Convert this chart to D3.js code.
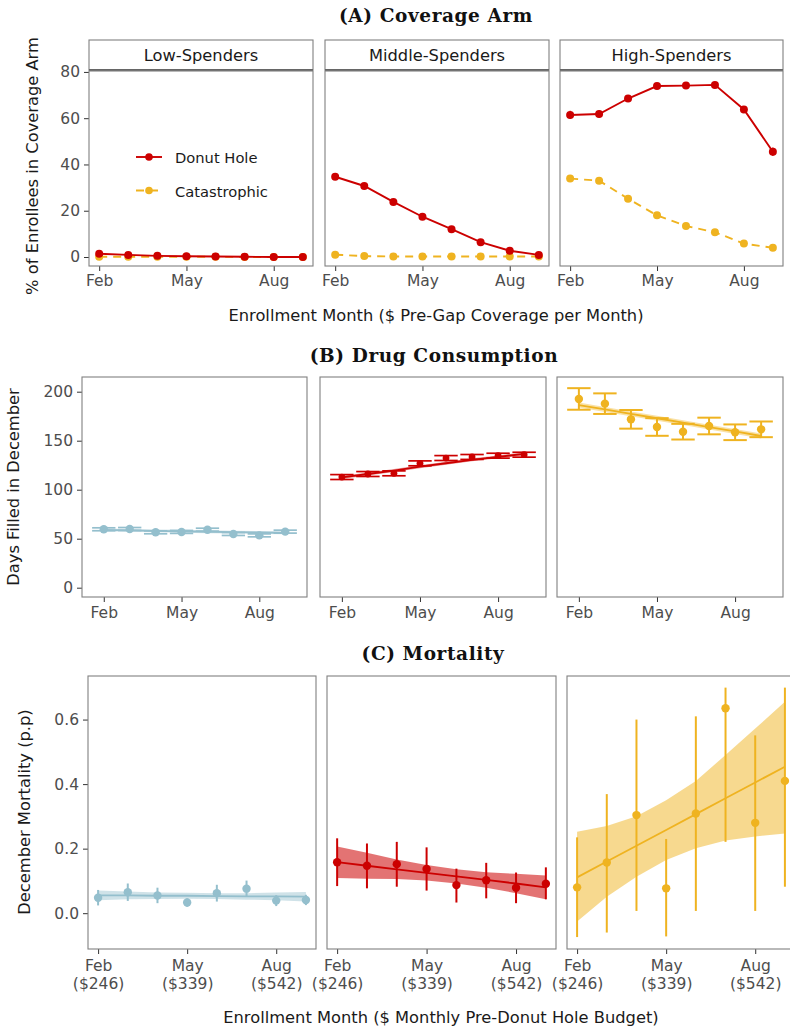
<!DOCTYPE html>
<html>
<head>
<meta charset="utf-8">
<script src="https://d3js.org/d3.v7.min.js"></script>
<style>
  body { margin: 0; background: #fff; }
  text { font-family: "DejaVu Sans", sans-serif; }
</style>
</head>
<body>
<div id="chart"></div>
<script>
// months on the x axis (Feb = 2 ... Sep = 9)
const months = [2, 3, 4, 5, 6, 7, 8, 9];
const tickMonths = [2, 5, 8];
const tickNames = ["Feb", "May", "Aug"];
const budgets = ["($246)", "($339)", "($542)"];
const groups = ["Low-Spenders", "Middle-Spenders", "High-Spenders"];

// (A) coverage arm, % of enrollees
const donutLow = [1.4, 0.9, 0.5, 0.3, 0.2, 0.1, 0.0, 0.0];
const catLow = [0.1, 0.1, 0.1, 0.1, 0.1, 0.0, 0.0, 0.0];
const donutMid = [34.7, 30.7, 23.8, 17.4, 12.0, 6.4, 2.7, 0.9];
const catMid = [1.0, 0.4, 0.2, 0.2, 0.2, 0.2, 0.2, 0.2];
const donutHigh = [61.4, 61.8, 68.5, 73.9, 74.1, 74.4, 63.8, 45.5];
const donutHighSE = [1.8, 1.6, 1.4, 1.2, 1.2, 1.2, 1.5, 1.8];
const catHigh = [33.9, 33.0, 25.2, 18.0, 13.4, 10.7, 5.8, 4.0];

// (B) days filled in December
const daysLow = [59.6, 59.9, 56.5, 56.9, 59.2, 54.8, 53.4, 57.2];
const daysLowSE = [1.5, 1.5, 1.5, 1.5, 1.5, 1.5, 1.5, 1.5];
const daysLowFit = [58.9, 58.5, 58.0, 57.5, 57.1, 56.7, 56.3, 56.0];
const daysMid = [112.9, 116.0, 116.7, 126.9, 132.3, 133.4, 134.7, 135.7];
const daysMidSE = [2.5, 2.5, 2.5, 2.5, 2.5, 2.5, 2.5, 2.5];
const daysMidFit = [112.5, 116.0, 119.5, 123.5, 127.0, 130.5, 133.5, 136.5];
const daysHigh = [192.6, 187.8, 171.8, 164.0, 159.2, 165.0, 158.6, 161.6];
const daysHighSE = [11.0, 10.5, 9.5, 9.0, 8.0, 8.5, 8.0, 8.0];
const daysHighFit = [186.4, 181.9, 177.4, 172.9, 168.4, 163.9, 159.4, 154.8];

// (C) December mortality (p.p)
const mortLow = [0.048, 0.065, 0.055, 0.033, 0.062, 0.076, 0.039, 0.041];
const mortLowLo = [0.024, 0.038, 0.031, 0.020, 0.036, 0.051, 0.022, 0.025];
const mortLowHi = [0.072, 0.092, 0.079, 0.046, 0.088, 0.101, 0.056, 0.057];
const mortLowFit = [0.055, 0.055, 0.054, 0.054, 0.053, 0.052, 0.052, 0.051];
const mortLowBandLo = [0.040, 0.043, 0.044, 0.045, 0.044, 0.042, 0.040, 0.036];
const mortLowBandHi = [0.070, 0.067, 0.064, 0.063, 0.062, 0.062, 0.064, 0.066];

const mortMid = [0.158, 0.147, 0.152, 0.137, 0.087, 0.102, 0.079, 0.091];
const mortMidLo = [0.084, 0.077, 0.082, 0.070, 0.033, 0.046, 0.031, 0.043];
const mortMidHi = [0.232, 0.216, 0.221, 0.204, 0.138, 0.156, 0.126, 0.142];
const mortMidFit = [0.158, 0.147, 0.136, 0.125, 0.114, 0.103, 0.092, 0.080];
const mortMidBandLo = [0.109, 0.107, 0.106, 0.101, 0.092, 0.079, 0.062, 0.043];
const mortMidBandHi = [0.207, 0.187, 0.166, 0.149, 0.136, 0.127, 0.122, 0.117];

const mortHigh = [0.080, 0.157, 0.304, 0.077, 0.309, 0.635, 0.280, 0.410];
const mortHighLo = [-0.074, -0.060, 0.007, -0.072, 0.007, 0.221, 0.007, 0.082];
const mortHighHi = [0.235, 0.369, 0.600, 0.230, 0.610, 0.699, 0.551, 0.699];
const mortHighFit = [0.111, 0.160, 0.209, 0.258, 0.307, 0.356, 0.405, 0.454];
const mortHighBandLo = [-0.026, 0.051, 0.113, 0.165, 0.201, 0.225, 0.238, 0.247];
const mortHighBandHi = [0.252, 0.270, 0.300, 0.350, 0.410, 0.490, 0.572, 0.655];

const RED = "#cc0000", GOLD = "#efb320", BLUE = "#94bfcd";
const TICK = "#4d4d4d", BORDER = "#808080";

const svg = d3.select("#chart").append("svg")
    .attr("width", 790).attr("height", 1030);

function title(txt, x, y) {
    svg.append("text").attr("x", x).attr("y", y)
        .attr("text-anchor", "middle")
        .style("font-family", "'DejaVu Serif', serif")
        .style("font-weight", "bold").style("font-size", "18.5px")
        .style("letter-spacing", "0.6px")
        .attr("fill", "#111").text(txt);
}

function axisTitle(txt, x, y, rotate) {
    const t = svg.append("text").attr("text-anchor", "middle")
        .style("font-size", "16.3px").attr("fill", "#1a1a1a").text(txt);
    if (rotate) t.attr("transform", `translate(${x},${y}) rotate(-90)`);
    else t.attr("x", x).attr("y", y);
}

// one facet panel; returns group + scales
function panel(x0, x1, y0, y1, xDom, yDom, yTicks, yFmt, twoLine, pad) {
    const g = svg.append("g").attr("transform", `translate(${x0},${y0})`);
    const w = x1 - x0, h = y1 - y0;
    const x = d3.scaleLinear().domain(xDom).range([0, w]);
    const y = d3.scaleLinear().domain(yDom).range([h, 0]);

    const xa = g.append("g").attr("transform", `translate(0,${h})`)
        .call(d3.axisBottom(x).tickValues(tickMonths)
            .tickFormat((d, i) => tickNames[i]).tickSize(5).tickPadding(pad));
    xa.select(".domain").remove();
    xa.selectAll("line").attr("stroke", "#333");
    xa.selectAll("text").attr("fill", TICK).style("font-size", "15.5px")
        .style("font-family", "'DejaVu Sans', sans-serif");
    if (twoLine) {
        xa.selectAll("text").each(function(d, i) {
            const t = d3.select(this);
            t.text(null);
            t.append("tspan").attr("x", 0).attr("dy", "0.71em").text(tickNames[i]);
            t.append("tspan").attr("x", 0).attr("dy", "1.15em").text(budgets[i]);
        }).attr("dy", null);
    }
    if (yTicks) {
        const ya = g.append("g")
            .call(d3.axisLeft(y).tickValues(yTicks).tickFormat(yFmt).tickSize(5).tickPadding(4));
        ya.select(".domain").remove();
        ya.selectAll("line").attr("stroke", "#333");
        ya.selectAll("text").attr("fill", TICK).style("font-size", "15.5px")
            .style("font-family", "'DejaVu Sans', sans-serif");
    }
    const plot = g.append("g");
    g.append("rect").attr("width", w).attr("height", h)
        .attr("fill", "none").attr("stroke", BORDER).attr("stroke-width", 1.1);
    return { g: plot, x, y, w, h };
}

function drawLine(p, vals, color, dash, width) {
    p.g.append("path").datum(vals)
        .attr("d", d3.line().x((d, i) => p.x(months[i])).y(d => p.y(d)))
        .attr("fill", "none").attr("stroke", color)
        .attr("stroke-width", width || 1.9)
        .attr("stroke-dasharray", dash || null);
}

function drawPoints(p, vals, color, r) {
    p.g.selectAll(null).data(vals).enter().append("circle")
        .attr("cx", (d, i) => p.x(months[i])).attr("cy", d => p.y(d))
        .attr("r", r).attr("fill", color);
}

function drawBand(p, lo, hi, color, op) {
    p.g.append("path").datum(months)
        .attr("d", d3.area().x(d => p.x(d))
            .y0((d, i) => p.y(lo[i])).y1((d, i) => p.y(hi[i])))
        .attr("fill", color).attr("opacity", op);
}

function drawVBars(p, lo, hi, color, width) {
    p.g.selectAll(null).data(months).enter().append("line")
        .attr("x1", d => p.x(d)).attr("x2", d => p.x(d))
        .attr("y1", (d, i) => p.y(lo[i])).attr("y2", (d, i) => p.y(hi[i]))
        .attr("stroke", color).attr("stroke-width", width);
}

function drawCaps(p, lo, hi, color, width) {
    const half = 0.45;
    [lo, hi].forEach(arr => {
        p.g.selectAll(null).data(months).enter().append("line")
            .attr("x1", d => p.x(d - half)).attr("x2", d => p.x(d + half))
            .attr("y1", (d, i) => p.y(arr[i])).attr("y2", (d, i) => p.y(arr[i]))
            .attr("stroke", color).attr("stroke-width", width);
    });
}

// ---------------- (A) Coverage Arm ----------------
title("(A) Coverage Arm", 436, 22);
const aBoxes = [[89, 313], [325, 549], [560, 783]];
const aDon = [donutLow, donutMid, donutHigh];
const aCat = [catLow, catMid, catHigh];
aBoxes.forEach((b, k) => {
    // strip
    svg.append("rect").attr("x", b[0]).attr("y", 40).attr("width", b[1] - b[0]).attr("height", 30)
        .attr("fill", "#fff").attr("stroke", BORDER).attr("stroke-width", 1.1);
    svg.append("line").attr("x1", b[0]).attr("x2", b[1]).attr("y1", 70).attr("y2", 70)
        .attr("stroke", "#666").attr("stroke-width", 2);
    svg.append("text").attr("x", (b[0] + b[1]) / 2).attr("y", 61)
        .attr("text-anchor", "middle").style("font-size", "16.3px").attr("fill", "#1a1a1a")
        .text(groups[k]);
    const p = panel(b[0], b[1], 71, 266, [1.65, 9.35], [-3.89, 80.4],
        k === 0 ? [0, 20, 40, 60, 80] : null, d3.format("d"), false, 4);
    if (k === 2) {
        drawVBars(p, donutHigh.map((d, i) => d - donutHighSE[i]),
            donutHigh.map((d, i) => d + donutHighSE[i]), RED, 1.2);
    }
    drawLine(p, aCat[k], GOLD, "8,6");
    drawPoints(p, aCat[k], GOLD, 4);
    drawLine(p, aDon[k], RED);
    drawPoints(p, aDon[k], RED, 4);
});
// legend
const legend = [["Donut Hole", RED, null], ["Catastrophic", GOLD, "8,6"]];
legend.forEach((l, i) => {
    const yy = 157 + i * 33.5;
    svg.append("line").attr("x1", 136).attr("x2", 162).attr("y1", yy).attr("y2", yy)
        .attr("stroke", l[1]).attr("stroke-width", 1.9).attr("stroke-dasharray", l[2]);
    svg.append("circle").attr("cx", 149).attr("cy", yy).attr("r", 3.8).attr("fill", l[1]);
    svg.append("text").attr("x", 175).attr("y", yy + 6).style("font-size", "14.7px")
        .attr("fill", "#1a1a1a").text(l[0]);
});
axisTitle("% of Enrollees in Coverage Arm", 38, 166, true);
axisTitle("Enrollment Month ($ Pre-Gap Coverage per Month)", 436, 321, false);

// ---------------- (B) Drug Consumption ----------------
title("(B) Drug Consumption", 434, 362);
const bBoxes = [[82, 307], [320, 546], [557, 783]];
const bVals = [daysLow, daysMid, daysHigh];
const bSE = [daysLowSE, daysMidSE, daysHighSE];
const bFit = [daysLowFit, daysMidFit, daysHighFit];
const bBand = [1.5, 1.5, 2.5];
const bCol = [BLUE, RED, GOLD];
bBoxes.forEach((b, k) => {
    const p = panel(b[0], b[1], 377, 597, [1.16, 9.84], [-9.5, 215],
        k === 0 ? [0, 50, 100, 150, 200] : null, d3.format("d"), false, 5);
    drawBand(p, bFit[k].map(d => d - bBand[k]), bFit[k].map(d => d + bBand[k]), bCol[k], 0.4);
    drawLine(p, bFit[k], bCol[k], null, 1.8);
    const lo = bVals[k].map((d, i) => d - bSE[k][i]);
    const hi = bVals[k].map((d, i) => d + bSE[k][i]);
    drawVBars(p, lo, hi, bCol[k], 2);
    drawCaps(p, lo, hi, bCol[k], k === 2 ? 2 : 1.7);
    drawPoints(p, bVals[k], bCol[k], k === 1 ? 3.4 : 4.2);
});
axisTitle("Days Filled in December", 18.5, 487, true);

// ---------------- (C) Mortality ----------------
title("(C) Mortality", 433, 660);
const cBoxes = [[88, 316], [327, 556], [567, 795]];
const cVals = [mortLow, mortMid, mortHigh];
const cLo = [mortLowLo, mortMidLo, mortHighLo];
const cHi = [mortLowHi, mortMidHi, mortHighHi];
const cFit = [mortLowFit, mortMidFit, mortHighFit];
const cBLo = [mortLowBandLo, mortMidBandLo, mortHighBandLo];
const cBHi = [mortLowBandHi, mortMidBandHi, mortHighBandHi];
const cCol = [BLUE, RED, GOLD];
const cOp = [0.45, 0.55, 0.5];
cBoxes.forEach((b, k) => {
    const p = panel(b[0], b[1], 676, 949, [1.66, 9.34], [-0.111, 0.735],
        k === 0 ? [0, 0.2, 0.4, 0.6] : null, d3.format(".1f"), true, 6);
    drawBand(p, cBLo[k], cBHi[k], cCol[k], cOp[k]);
    drawLine(p, cFit[k], cCol[k], null, 1.8);
    drawVBars(p, cLo[k], cHi[k], cCol[k], 2);
    drawPoints(p, cVals[k], cCol[k], 4.2);
});
axisTitle("December Mortality (p.p)", 29.5, 812, true);
axisTitle("Enrollment Month ($ Monthly Pre-Donut Hole Budget)", 441, 1023, false);
</script>
</body>
</html>
